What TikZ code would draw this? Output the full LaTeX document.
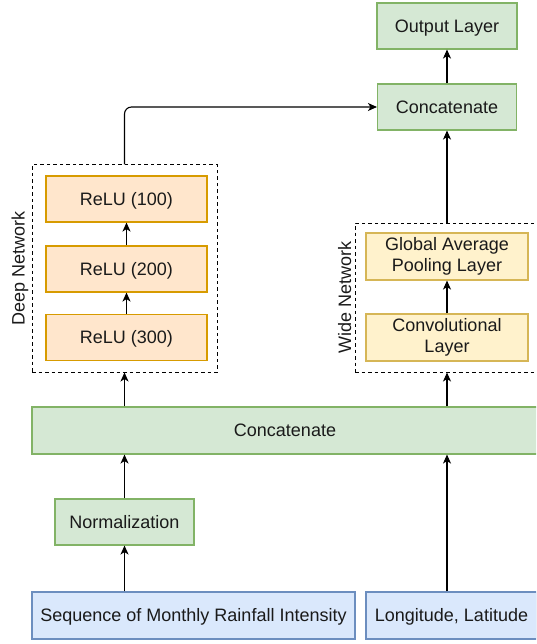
\documentclass[tikz,border=0pt]{standalone}
\usepackage{fontspec}
\setmainfont{Liberation Sans}
\usetikzlibrary{arrows.meta}
\definecolor{gfill}{HTML}{D5E8D4}\definecolor{gline}{HTML}{82B366}
\definecolor{ofill}{HTML}{FFE6CC}\definecolor{oline}{HTML}{D79B00}
\definecolor{yfill}{HTML}{FFF2CC}\definecolor{yline}{HTML}{D6B656}
\definecolor{bfill}{HTML}{DAE8FC}\definecolor{bline}{HTML}{6C8EBF}
\definecolor{txt}{HTML}{1A1A1A}
\tikzset{
  box/.style={draw, line width=1.1pt, inner sep=0pt, align=center, text=txt,
    font=\fontsize{18}{21.6}\selectfont},
  oneline/.style={text height=16.3pt, text depth=3.8pt},
  gbox/.style={box, fill=gfill, draw=gline},
  obox/.style={box, fill=ofill, draw=oline},
  ybox/.style={box, fill=yfill, draw=yline},
  bbox/.style={box, fill=bfill, draw=bline},
  group/.style={draw, line width=1pt, dash pattern=on 3.5pt off 3pt, inner sep=0pt},
  glabel/.style={rotate=90, anchor=south, inner sep=3pt, text=txt, font=\fontsize{18}{21.6}\selectfont},
  arr/.style={line width=1.1pt, -{Stealth[length=9pt,width=8pt,inset=2.5pt]}},
}
\begin{document}
\begin{tikzpicture}[x=1pt,y=-1pt]
\clip (0,0) rectangle (536,644);
% groups
\node[group, minimum width=185pt, minimum height=207pt] (deep) at (124.5,268.5) {};
\node[group, minimum width=184pt, minimum height=149pt] (wide) at (447,297.5) {};
\node[glabel] at (deep.west) {Deep Network};
\node[glabel] at (wide.west) {Wide Network};
% nodes
\node[gbox, oneline, minimum width=140pt, minimum height=46pt] (out) at (447,26) {Output Layer};
\node[gbox, oneline, minimum width=139pt, minimum height=46pt] (cat2) at (447,107) {Concatenate};
\node[obox, oneline, minimum width=161pt, minimum height=46pt] (r100) at (126.5,199) {ReLU (100)};
\node[obox, oneline, minimum width=161pt, minimum height=46pt] (r200) at (126.5,269) {ReLU (200)};
\node[obox, oneline, minimum width=161pt, minimum height=46pt] (r300) at (126.5,337.5) {ReLU (300)};
\node[ybox, minimum width=162pt, minimum height=47pt] (gap) at (447,256.5) {Global Average\\Pooling Layer};
\node[ybox, minimum width=162pt, minimum height=47pt] (conv) at (447,337.5) {Convolutional\\Layer};
\node[gbox, oneline, minimum width=506pt, minimum height=47pt] (cat1) at (285,430.5) {Concatenate};
\node[gbox, oneline, minimum width=139pt, minimum height=46pt] (norm) at (124.5,522) {Normalization};
\node[bbox, oneline, minimum width=323pt, minimum height=47pt] (seq) at (193.5,615.5) {Sequence of Monthly Rainfall Intensity};
\node[bbox, oneline, minimum width=171pt, minimum height=47pt] (lon) at (451.5,615.5) {Longitude, Latitude};
% connectors
\draw[arr] (norm.south |- seq.north) -- (norm.south);
\draw[arr] (norm.north) -- (norm.north |- cat1.south);
\draw[arr] (deep.south |- cat1.north) -- (deep.south);
\draw[arr] (r300.north) -- (r200.south);
\draw[arr] (r200.north) -- (r100.south);
\draw[arr, rounded corners=7pt] (deep.north) |- (cat2.west);
\draw[arr] (wide.south |- lon.north) -- (wide.south |- cat1.south);
\draw[arr] (wide.south |- cat1.north) -- (wide.south);
\draw[arr] (conv.north) -- (gap.south);
\draw[arr] (wide.north) -- (cat2.south);
\draw[arr] (cat2.north) -- (out.south);
\end{tikzpicture}
\end{document}
